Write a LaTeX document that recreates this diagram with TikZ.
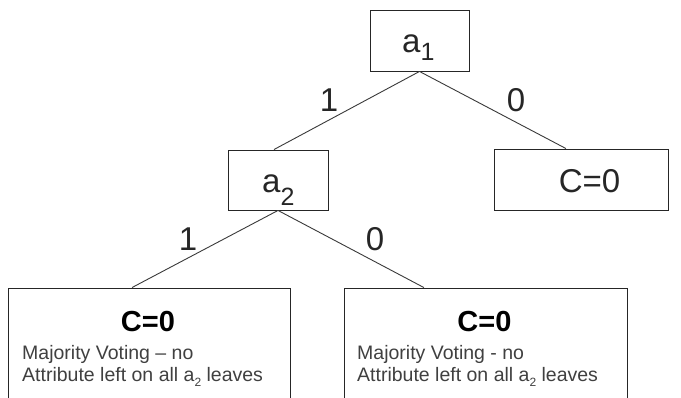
\documentclass[tikz,border=0pt]{standalone}
\usepackage{fontspec}
\setmainfont{Liberation Sans}
\usetikzlibrary{calc}
\definecolor{txt}{HTML}{262626}
\definecolor{smalltxt}{HTML}{404040}
\definecolor{edge}{HTML}{3A3A3A}
\newcommand{\bigf}{\fontsize{33}{38}\selectfont}
\newcommand{\subf}{\fontsize{25}{25}\selectfont}
\newcommand{\boldf}{\fontsize{29}{34}\selectfont\bfseries}
\newcommand{\smallf}{\fontsize{19.5}{21}\selectfont}
\newcommand{\mysub}[2]{\raisebox{-#1pt}{\subf #2}}
\newcommand{\smsub}[1]{\raisebox{-0.25em}{\fontsize{12}{12}\selectfont #1}}
\begin{document}
\begin{tikzpicture}[x=1pt,y=-1pt,
  box/.style={draw=black!85,line width=0.9pt,rectangle,inner sep=0pt},
  conn/.style={draw=edge,line width=0.9pt},
  maintxt/.style={inner sep=0pt,anchor=base west,text=txt,font=\bigf},
  elabel/.style={inner sep=0pt,text=txt,font=\bigf},
  headtxt/.style={inner sep=0pt,anchor=base,text=black,font=\boldf},
  bodytxt/.style={inner sep=0pt,anchor=base west,text=smalltxt,font=\smallf}]
\clip (0,0) rectangle (681,398);
\fill[white] (0,0) rectangle (681,398);
% boxes
\node[box,minimum width=99pt,minimum height=61pt] (a1) at (419.5,40.5) {};
\node[box,minimum width=100pt,minimum height=60pt] (a2) at (278,180) {};
\node[box,minimum width=174pt,minimum height=61pt] (c0) at (581,179.5) {};
\node[box,minimum width=282pt,minimum height=130pt] (bl) at (149,353) {};
\node[box,minimum width=283pt,minimum height=130pt] (br) at (485.5,353) {};
% box texts
\node[maintxt] (a1t) at (402,53) {a\mysub{8}{1}};
\node[maintxt] (a2t) at (262,193) {a\mysub{13}{2}};
\node[maintxt,anchor=base] (c0t) at (589.5,193) {C=0};
% leaf texts
\node[headtxt] (blh) at (148,332) {C=0};
\node[bodytxt] (bl1) at (22,360) {Majority Voting -- no};
\node[bodytxt] (bl2) at (22,382) {Attribute left on all a\smsub{2} leaves};
\node[headtxt] (brh) at (484.5,332) {C=0};
\node[bodytxt] (br1) at (357,360) {Majority Voting - no};
\node[bodytxt] (br2) at (357,382) {Attribute left on all a\smsub{2} leaves};
% connectors
\coordinate (a2top) at ($(a2.north west)!0.46!(a2.north east)$);
\coordinate (c0top) at ($(c0.north west)!0.414!(c0.north east)$);
\coordinate (bltop) at ($(bl.north west)!0.44!(bl.north east)$);
\coordinate (brtop) at ($(br.north west)!0.283!(br.north east)$);
\draw[conn] (a1.south) -- (a2top);
\draw[conn] (a1.south) -- (c0top);
\draw[conn] (a2.south) -- (bltop);
\draw[conn] (a2.south) -- (brtop);
% edge labels
\node[elabel] (l11) at (329,100.5) {1};
\node[elabel] (l10) at (516,100.5) {0};
\node[elabel] (l21) at (188,239) {1};
\node[elabel] (l20) at (375,239) {0};
\end{tikzpicture}
\end{document}
